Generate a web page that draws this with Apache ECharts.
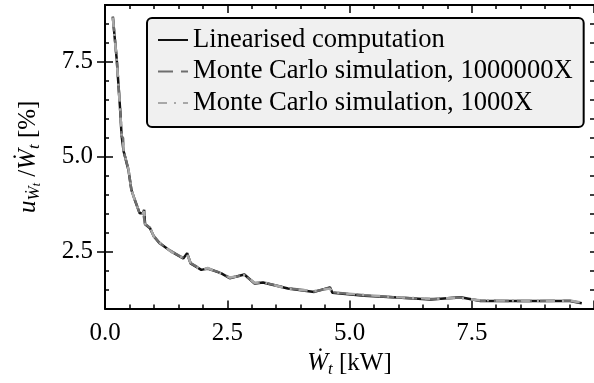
<!DOCTYPE html>
<html><head><meta charset="utf-8">
<script src="https://cdn.jsdelivr.net/npm/echarts@6/dist/echarts.min.js"></script>
<style>html,body{margin:0;padding:0;background:#fff}#c{width:594px;height:383px}</style>
</head><body><div id="c"></div>
<script>
const xPower = [0.16,0.24,0.31,0.34,0.37,0.38,0.48,0.54,0.61,0.71,0.78,0.80,0.82,0.92,1.00,1.12,1.36,1.60,1.68,1.75,1.97,2.10,2.38,2.55,2.85,3.06,3.23,3.74,4.28,4.60,4.65,5.30,5.98,6.66,7.27,7.68,8.56,9.51,9.75];
const yLinear = [8.68,7.56,6.24,5.55,5.50,5.15,4.65,4.13,3.86,3.51,3.52,3.60,3.22,3.12,2.90,2.72,2.50,2.32,2.46,2.19,2.02,2.06,1.93,1.80,1.90,1.66,1.69,1.53,1.44,1.56,1.42,1.34,1.29,1.24,1.30,1.20,1.20,1.20,1.14];
const yMC1e6 = [8.70,7.58,6.25,5.55,5.49,5.16,4.66,4.12,3.87,3.50,3.53,3.58,3.23,3.13,2.91,2.72,2.51,2.33,2.44,2.20,2.03,2.05,1.94,1.81,1.89,1.67,1.69,1.54,1.45,1.54,1.43,1.35,1.29,1.25,1.29,1.21,1.20,1.21,1.15];
const yMC1e3 = [8.66,7.54,6.22,5.56,5.48,5.14,4.67,4.14,3.85,3.52,3.51,3.57,3.24,3.14,2.89,2.74,2.49,2.34,2.43,2.21,2.01,2.07,1.92,1.82,1.88,1.68,1.70,1.52,1.46,1.53,1.43,1.36,1.30,1.26,1.28,1.22,1.21,1.21,1.16];
const seriesNames = ['Linearised computation','Monte Carlo simulation, 1000000X','Monte Carlo simulation, 1000X'];
const yTicks = [2.5, 5.0, 7.5];

const pair = ys => xPower.map((x,i)=>[x, ys[i]]);
const FONT = 'Liberation Serif';
const chart = echarts.init(document.getElementById('c'));
const axLine = {show:true, lineStyle:{color:'#000', width:2}};
chart.setOption({
  animation:false,
  grid:{left:105, top:5, right:-2, bottom:74},
  legend:{
    orient:'vertical', left:147, top:18,
    data: seriesNames,
    backgroundColor:'#f0f0f0', borderColor:'#000', borderWidth:2, borderRadius:5,
    padding:[7,11,9,10], itemWidth:30, itemHeight:14, itemGap:1.5,
    itemStyle:{color:'transparent', borderColor:'transparent', borderWidth:0, opacity:0},
    textStyle:{fontFamily:FONT, fontSize:26.6, color:'#000', lineHeight:30}
  },
  xAxis:[
    {type:'value', min:0, max:10, interval:2.5, position:'bottom',
     name:'{w|Ẇ}{s|t}{n| [kW]}', nameLocation:'middle', nameGap:29,
     nameTextStyle:{rich:{
       w:{fontFamily:FONT, fontSize:25, fontStyle:'italic', color:'#000', lineHeight:30},
       s:{fontFamily:FONT, fontSize:17, fontStyle:'italic', color:'#000', verticalAlign:'bottom', lineHeight:30},
       n:{fontFamily:FONT, fontSize:25, color:'#000', lineHeight:30}}},
     axisLine:axLine, splitLine:{show:false},
     axisTick:{show:true, inside:true, length:8, lineStyle:{color:'#000', width:1.5}},
     minorTick:{show:true, splitNumber:5, length:4, lineStyle:{color:'#000', width:1.5}},
     axisLabel:{fontFamily:FONT, fontSize:25, color:'#000', margin:12, showMaxLabel:false,
       formatter:v=>v.toFixed(1)}},
    {type:'value', min:0, max:10, interval:2.5, position:'top',
     axisLine:axLine, splitLine:{show:false},
     axisTick:{show:true, inside:true, length:8, lineStyle:{color:'#000', width:1.5}},
     minorTick:{show:true, splitNumber:5, length:4, lineStyle:{color:'#000', width:1.5}},
     axisLabel:{show:false}}
  ],
  yAxis:[
    {type:'value', min:1, max:9, position:'left',
     name:'{i|u}{s|Ẇ}{ss|t}{n| /}{i|Ẇ}{s2|t}{n| [%]}', nameLocation:'middle', nameGap:62, nameRotate:90,
     nameTextStyle:{rich:{
       i:{fontFamily:FONT, fontSize:25, fontStyle:'italic', color:'#000', lineHeight:30},
       s:{fontFamily:FONT, fontSize:17, fontStyle:'italic', color:'#000', verticalAlign:'bottom', lineHeight:30},
       ss:{fontFamily:FONT, fontSize:12, fontStyle:'italic', color:'#000', verticalAlign:'bottom', lineHeight:26},
       s2:{fontFamily:FONT, fontSize:17, fontStyle:'italic', color:'#000', verticalAlign:'bottom', lineHeight:30},
       n:{fontFamily:FONT, fontSize:25, color:'#000', lineHeight:30}}},
     axisLine:axLine, splitLine:{show:false},
     axisTick:{show:true, inside:true, length:8, customValues:yTicks, lineStyle:{color:'#000', width:1.5}},
     axisLabel:{fontFamily:FONT, fontSize:25, color:'#000', margin:12, customValues:yTicks, formatter:v=>v.toFixed(1)}},
    {type:'value', min:1, max:9, position:'right',
     axisLine:axLine, splitLine:{show:false},
     axisTick:{show:true, inside:true, length:8, customValues:yTicks, lineStyle:{color:'#000', width:1.5}},
     axisLabel:{show:false}},
    {type:'value', min:1, max:9, interval:0.5, position:'left',
     axisLine:{show:false}, splitLine:{show:false},
     axisTick:{show:true, inside:true, length:4, lineStyle:{color:'#000', width:1.5}},
     axisLabel:{show:false}},
    {type:'value', min:1, max:9, interval:0.5, position:'right',
     axisLine:{show:false}, splitLine:{show:false},
     axisTick:{show:true, inside:true, length:4, lineStyle:{color:'#000', width:1.5}},
     axisLabel:{show:false}}
  ],
  series:[
    {name:seriesNames[0], type:'line', data:pair(yLinear), symbol:'none', z:2,
     lineStyle:{color:'#111', width:2.5}, itemStyle:{color:'#111'}},
    {name:seriesNames[1], type:'line', data:pair(yMC1e6), symbol:'none', z:3,
     lineStyle:{color:'#6e6e6e', width:2.5, type:[15,8]}, itemStyle:{color:'#6e6e6e'}},
    {name:seriesNames[2], type:'line', data:pair(yMC1e3), symbol:'none', z:4,
     lineStyle:{color:'#a8a8a8', width:2.5, type:[9,7,2,7]}, itemStyle:{color:'#a8a8a8'}}
  ]
});
</script></body></html>
